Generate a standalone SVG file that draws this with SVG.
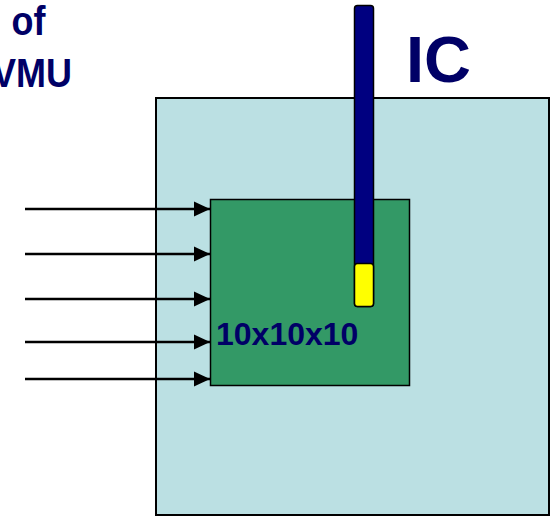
<svg xmlns="http://www.w3.org/2000/svg" width="554" height="517" viewBox="0 0 554 517">
  <defs>
    <style>
      .lbl { font-family: "Liberation Sans", Arial, sans-serif; font-weight: bold; fill: #000066; }
      .conn { stroke: #000000; stroke-width: 2.5; fill: none; }
    </style>
    <marker id="arrow" markerUnits="userSpaceOnUse" markerWidth="16" markerHeight="16" refX="16" refY="8" orient="auto">
      <path d="M0,0.5 L16,8 L0,15.5 Z" fill="#000000"/>
    </marker>
  </defs>
  <rect width="554" height="517" fill="#ffffff"/>

  <g id="title">
    <text class="lbl" font-size="36" transform="translate(11.5,35) scale(1,1.15)">of</text>
    <text class="lbl" font-size="36" text-anchor="end" transform="translate(72,87) scale(1,1.15)">VMU</text>
  </g>

  <g id="ic">
    <rect x="156" y="98" width="393" height="417" fill="#BBE0E3" stroke="#000000" stroke-width="2"/>
    <text class="lbl" font-size="65" x="406" y="82">IC</text>
  </g>

  <g id="connectors">
    <line class="conn" x1="25" y1="209" x2="210" y2="209" marker-end="url(#arrow)"/>
    <line class="conn" x1="25" y1="254" x2="210" y2="254" marker-end="url(#arrow)"/>
    <line class="conn" x1="25" y1="299" x2="210" y2="299" marker-end="url(#arrow)"/>
    <line class="conn" x1="25" y1="342" x2="210" y2="342" marker-end="url(#arrow)"/>
    <line class="conn" x1="25" y1="379" x2="210" y2="379" marker-end="url(#arrow)"/>
  </g>

  <g id="chip">
    <rect x="210.5" y="199.5" width="199" height="186" fill="#339966" stroke="#000000" stroke-width="1.5"/>
    <text class="lbl" font-size="32" x="216" y="345">10x10x10</text>
  </g>

  <g id="probe">
    <rect x="354.5" y="5.5" width="19" height="301" rx="3" fill="#000080" stroke="#000000" stroke-width="1.5"/>
    <rect x="354.5" y="263.5" width="19" height="43" rx="3" fill="#FFFF00" stroke="#000000" stroke-width="1.5"/>
  </g>
</svg>
